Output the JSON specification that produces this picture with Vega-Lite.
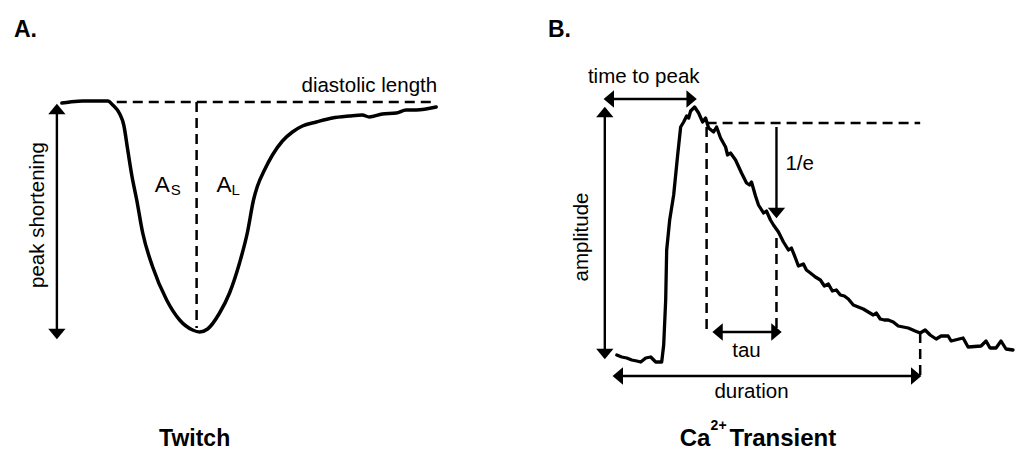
{
  "$schema": "https://vega.github.io/schema/vega-lite/v6.json",
  "width": 1015,
  "height": 451,
  "padding": 0,
  "autosize": {"type": "fit", "contains": "padding"},
  "background": "white",
  "config": {"view": {"stroke": null}, "font": "Liberation Sans"},
  "datasets": {
    "twitch": [
      {"x": 62, "y": 103}, {"x": 70, "y": 102}, {"x": 83, "y": 101}, {"x": 100, "y": 101}, {"x": 108, "y": 101},
      {"x": 113, "y": 105}, {"x": 120, "y": 114}, {"x": 124, "y": 125}, {"x": 128, "y": 150}, {"x": 132, "y": 175},
      {"x": 137, "y": 200}, {"x": 143, "y": 233}, {"x": 153, "y": 267}, {"x": 167, "y": 300}, {"x": 180, "y": 320},
      {"x": 193, "y": 330}, {"x": 200, "y": 332}, {"x": 208, "y": 329}, {"x": 220, "y": 313}, {"x": 230, "y": 293},
      {"x": 240, "y": 263}, {"x": 248, "y": 232}, {"x": 254, "y": 200}, {"x": 258, "y": 186}, {"x": 265, "y": 170},
      {"x": 273, "y": 155}, {"x": 283, "y": 141}, {"x": 293, "y": 132}, {"x": 303, "y": 126}, {"x": 317, "y": 122},
      {"x": 333, "y": 118}, {"x": 350, "y": 116}, {"x": 363, "y": 115}, {"x": 370, "y": 117}, {"x": 383, "y": 114},
      {"x": 397, "y": 113}, {"x": 407, "y": 110}, {"x": 417, "y": 110}, {"x": 437, "y": 107}
    ],
    "calcium": [
      {"x": 618, "y": 355}, {"x": 623, "y": 357}, {"x": 628, "y": 358}, {"x": 633, "y": 360}, {"x": 638, "y": 361},
      {"x": 642, "y": 362}, {"x": 647, "y": 358}, {"x": 652, "y": 357}, {"x": 657, "y": 362}, {"x": 663, "y": 362},
      {"x": 665, "y": 345}, {"x": 667, "y": 300}, {"x": 668, "y": 250}, {"x": 671, "y": 220}, {"x": 675, "y": 195},
      {"x": 679, "y": 155}, {"x": 682, "y": 127}, {"x": 685, "y": 122}, {"x": 688, "y": 116}, {"x": 690, "y": 118},
      {"x": 692, "y": 111}, {"x": 696, "y": 107}, {"x": 700, "y": 113}, {"x": 704, "y": 122}, {"x": 707, "y": 118},
      {"x": 710, "y": 128}, {"x": 715, "y": 132}, {"x": 718, "y": 127}, {"x": 722, "y": 138}, {"x": 727, "y": 147},
      {"x": 729, "y": 155}, {"x": 732, "y": 153}, {"x": 737, "y": 160}, {"x": 743, "y": 173}, {"x": 748, "y": 183},
      {"x": 751, "y": 185}, {"x": 753, "y": 182}, {"x": 757, "y": 196}, {"x": 760, "y": 205}, {"x": 765, "y": 213},
      {"x": 768, "y": 211}, {"x": 772, "y": 220}, {"x": 775, "y": 225}, {"x": 780, "y": 232}, {"x": 785, "y": 242},
      {"x": 790, "y": 250}, {"x": 793, "y": 248}, {"x": 797, "y": 258}, {"x": 800, "y": 266}, {"x": 805, "y": 264},
      {"x": 808, "y": 270}, {"x": 812, "y": 273}, {"x": 817, "y": 277}, {"x": 822, "y": 280}, {"x": 826, "y": 286},
      {"x": 830, "y": 284}, {"x": 834, "y": 291}, {"x": 838, "y": 290}, {"x": 842, "y": 295}, {"x": 846, "y": 296},
      {"x": 850, "y": 299}, {"x": 855, "y": 305}, {"x": 860, "y": 307}, {"x": 865, "y": 309}, {"x": 870, "y": 312},
      {"x": 875, "y": 315}, {"x": 878, "y": 313}, {"x": 882, "y": 319}, {"x": 886, "y": 320}, {"x": 890, "y": 320},
      {"x": 895, "y": 322}, {"x": 900, "y": 326}, {"x": 905, "y": 327}, {"x": 910, "y": 328}, {"x": 917, "y": 331},
      {"x": 922, "y": 333}, {"x": 927, "y": 330}, {"x": 932, "y": 335}, {"x": 938, "y": 339}, {"x": 943, "y": 336},
      {"x": 950, "y": 336}, {"x": 953, "y": 341}, {"x": 965, "y": 338}, {"x": 970, "y": 347}, {"x": 983, "y": 346},
      {"x": 988, "y": 341}, {"x": 992, "y": 348}, {"x": 998, "y": 348}, {"x": 1003, "y": 341}, {"x": 1008, "y": 349},
      {"x": 1015, "y": 350}
    ],
    "dashed": [
      {"x": 117, "y": 102, "x2": 437, "y2": 102},
      {"x": 197, "y": 102, "x2": 197, "y2": 328},
      {"x": 708, "y": 123, "x2": 922, "y2": 123},
      {"x": 708, "y": 127, "x2": 708, "y2": 332},
      {"x": 778, "y": 238, "x2": 778, "y2": 330},
      {"x": 922, "y": 333, "x2": 922, "y2": 376}
    ],
    "shafts": [
      {"x": 57, "y": 110, "x2": 57, "y2": 334},
      {"x": 606, "y": 112, "x2": 606, "y2": 354},
      {"x": 610, "y": 99, "x2": 693, "y2": 99},
      {"x": 778, "y": 127, "x2": 778, "y2": 213},
      {"x": 719, "y": 332, "x2": 778, "y2": 332},
      {"x": 619, "y": 376, "x2": 918, "y2": 376}
    ],
    "headsUp": [
      {"x": 57, "y": 109},
      {"x": 606, "y": 112}
    ],
    "headsDown": [
      {"x": 57, "y": 334},
      {"x": 606, "y": 354},
      {"x": 778, "y": 213}
    ],
    "headsLeft": [
      {"x": 610, "y": 99},
      {"x": 719, "y": 332},
      {"x": 619, "y": 376}
    ],
    "headsRight": [
      {"x": 693, "y": 99},
      {"x": 778, "y": 332},
      {"x": 918, "y": 376}
    ],
    "labelsCenter": [
      {"x": 645, "y": 83, "t": "time to peak"},
      {"x": 748, "y": 357, "t": "tau"},
      {"x": 753, "y": 398, "t": "duration"}
    ],
    "labelsLeft": [
      {"x": 787, "y": 170, "t": "1/e"}
    ],
    "labelsRight": [
      {"x": 438, "y": 92, "t": "diastolic length"}
    ],
    "labelsRot": [
      {"x": 44, "y": 215, "t": "peak shortening"},
      {"x": 589, "y": 237, "t": "amplitude"}
    ],
    "bigA": [
      {"x": 155, "y": 192, "t": "A"},
      {"x": 217, "y": 192, "t": "A"}
    ],
    "subs": [
      {"x": 171, "y": 195, "t": "S"},
      {"x": 232, "y": 195, "t": "L"}
    ],
    "panels": [
      {"x": 14, "y": 37, "t": "A."},
      {"x": 549, "y": 37, "t": "B."}
    ],
    "titleCenter": [
      {"x": 195, "y": 446, "t": "Twitch"}
    ],
    "titleLeft": [
      {"x": 681, "y": 446, "t": "Ca"},
      {"x": 731, "y": 446, "t": "Transient"}
    ],
    "sup": [
      {"x": 712, "y": 430, "t": "2+"}
    ]
  },
  "encoding": {
    "x": {"field": "x", "type": "quantitative", "scale": {"domain": [0, 1015], "nice": false, "zero": false}, "axis": null},
    "y": {"field": "y", "type": "quantitative", "scale": {"domain": [0, 451], "nice": false, "zero": false, "reverse": true}, "axis": null}
  },
  "layer": [
    {
      "data": {"name": "dashed"},
      "mark": {"type": "rule", "color": "black", "strokeWidth": 2.5, "strokeDash": [10, 6]},
      "encoding": {"x2": {"field": "x2"}, "y2": {"field": "y2"}}
    },
    {
      "data": {"name": "shafts"},
      "mark": {"type": "rule", "color": "black", "strokeWidth": 2.4},
      "encoding": {"x2": {"field": "x2"}, "y2": {"field": "y2"}}
    },
    {
      "data": {"name": "headsUp"},
      "mark": {"type": "point", "filled": true, "color": "black", "opacity": 1, "size": 300, "strokeWidth": 0, "shape": "M0,-0.6L1,0.6L-1,0.6Z"}
    },
    {
      "data": {"name": "headsDown"},
      "mark": {"type": "point", "filled": true, "color": "black", "opacity": 1, "size": 300, "strokeWidth": 0, "shape": "M0,0.6L1,-0.6L-1,-0.6Z"}
    },
    {
      "data": {"name": "headsLeft"},
      "mark": {"type": "point", "filled": true, "color": "black", "opacity": 1, "size": 300, "strokeWidth": 0, "shape": "M-0.6,0L0.6,-1L0.6,1Z"}
    },
    {
      "data": {"name": "headsRight"},
      "mark": {"type": "point", "filled": true, "color": "black", "opacity": 1, "size": 300, "strokeWidth": 0, "shape": "M0.6,0L-0.6,-1L-0.6,1Z"}
    },
    {
      "data": {"name": "twitch"},
      "mark": {"type": "line", "color": "black", "strokeWidth": 3.5, "interpolate": "monotone", "strokeJoin": "round", "strokeCap": "round"},
      "encoding": {"order": {"field": "x", "type": "quantitative"}}
    },
    {
      "data": {"name": "calcium"},
      "mark": {"type": "line", "color": "black", "strokeWidth": 3.3, "strokeJoin": "round", "strokeCap": "round"},
      "encoding": {"order": {"field": "x", "type": "quantitative"}}
    },
    {
      "data": {"name": "labelsCenter"},
      "mark": {"type": "text", "fontSize": 20.5, "align": "center", "baseline": "alphabetic", "color": "black"},
      "encoding": {"text": {"field": "t"}}
    },
    {
      "data": {"name": "labelsLeft"},
      "mark": {"type": "text", "fontSize": 20.5, "align": "left", "baseline": "alphabetic", "color": "black"},
      "encoding": {"text": {"field": "t"}}
    },
    {
      "data": {"name": "labelsRight"},
      "mark": {"type": "text", "fontSize": 20.5, "align": "right", "baseline": "alphabetic", "color": "black"},
      "encoding": {"text": {"field": "t"}}
    },
    {
      "data": {"name": "labelsRot"},
      "mark": {"type": "text", "fontSize": 20.5, "align": "center", "baseline": "alphabetic", "angle": 270, "color": "black"},
      "encoding": {"text": {"field": "t"}}
    },
    {
      "data": {"name": "bigA"},
      "mark": {"type": "text", "fontSize": 22.5, "align": "left", "baseline": "alphabetic", "color": "black"},
      "encoding": {"text": {"field": "t"}}
    },
    {
      "data": {"name": "subs"},
      "mark": {"type": "text", "fontSize": 15, "align": "left", "baseline": "alphabetic", "color": "black"},
      "encoding": {"text": {"field": "t"}}
    },
    {
      "data": {"name": "panels"},
      "mark": {"type": "text", "fontSize": 23, "fontWeight": "bold", "align": "left", "baseline": "alphabetic", "color": "black"},
      "encoding": {"text": {"field": "t"}}
    },
    {
      "data": {"name": "titleCenter"},
      "mark": {"type": "text", "fontSize": 23, "fontWeight": "bold", "align": "center", "baseline": "alphabetic", "color": "black"},
      "encoding": {"text": {"field": "t"}}
    },
    {
      "data": {"name": "titleLeft"},
      "mark": {"type": "text", "fontSize": 24, "fontWeight": "bold", "align": "left", "baseline": "alphabetic", "color": "black"},
      "encoding": {"text": {"field": "t"}}
    },
    {
      "data": {"name": "sup"},
      "mark": {"type": "text", "fontSize": 14, "fontWeight": "bold", "align": "left", "baseline": "alphabetic", "color": "black"},
      "encoding": {"text": {"field": "t"}}
    }
  ]
}
